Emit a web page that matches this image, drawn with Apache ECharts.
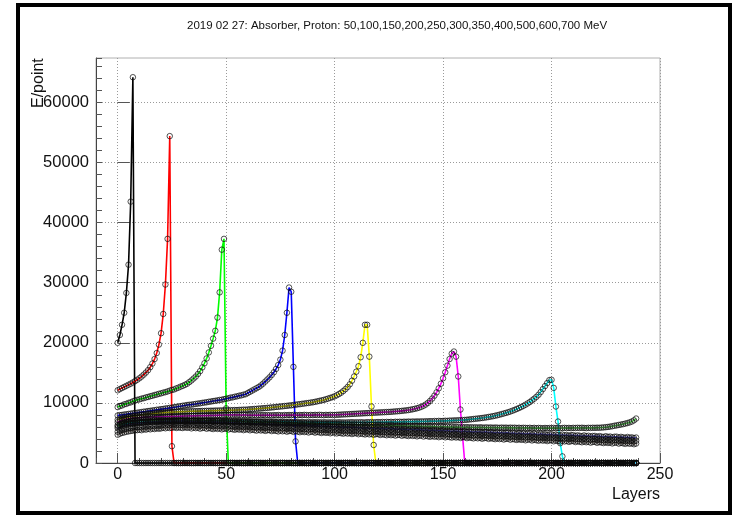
<!DOCTYPE html>
<html>
<head>
<meta charset="utf-8">
<title>Absorber, Proton</title>
<script src="https://cdn.jsdelivr.net/npm/echarts@6/dist/echarts.min.js"></script>
<style>
  html, body { margin: 0; padding: 0; background: #fff; }
  #chart { width: 734px; height: 517px; }
</style>
</head>
<body>
<div id="chart"></div>
<script>
// E/point per layer (layer = index in array), one array per proton energy
const e50 = [
  20000, 21300, 23000, 25000, 28300, 33000, 43500, 64200,
  0,0,0,0,0,0,0,0,0,0,0,0,0,0,0,0,0,0,0,0,
  0,0,0,0,0,0,0,0,0,0,0,0,0,0,0,0,0,0,0,0,
  0,0,0,0,0,0,0,0,0,0,0,0,0,0,0,0,0,0,0,0,
  0,0,0,0,0,0,0,0,0,0,0,0,0,0,0,0,0,0,0,0,
  0,0,0,0,0,0,0,0,0,0,0,0,0,0,0,0,0,0,0,0,
  0,0,0,0,0,0,0,0,0,0,0,0,0,0,0,0,0,0,0,0,
  0,0,0,0,0,0,0,0,0,0,0,0,0,0,0,0,0,0,0,0,
  0,0,0,0,0,0,0,0,0,0,0,0,0,0,0,0,0,0,0,0,
  0,0,0,0,0,0,0,0,0,0,0,0,0,0,0,0,0,0,0,0,
  0,0,0,0,0,0,0,0,0,0,0,0,0,0,0,0,0,0,0,0,
  0,0,0,0,0,0,0,0,0,0,0,0,0,0,0,0,0,0,0,0,
  0,0,0,0,0,0,0,0,0,0,0,0
]
const e100 = [
  12100, 12300, 12480, 12660, 12840, 13020, 13200, 13400, 13620, 13850,
  14100, 14380, 14700, 15050, 15450, 15950, 16550, 17300, 18300, 19700,
  21600, 24800, 29700, 37300, 54400, 2800,
  0,0,0,0,0,0,0,0,0,0,0,0,0,0,0,0,0,0,0,0,
  0,0,0,0,0,0,0,0,0,0,0,0,0,0,0,0,0,0,0,0,
  0,0,0,0,0,0,0,0,0,0,0,0,0,0,0,0,0,0,0,0,
  0,0,0,0,0,0,0,0,0,0,0,0,0,0,0,0,0,0,0,0,
  0,0,0,0,0,0,0,0,0,0,0,0,0,0,0,0,0,0,0,0,
  0,0,0,0,0,0,0,0,0,0,0,0,0,0,0,0,0,0,0,0,
  0,0,0,0,0,0,0,0,0,0,0,0,0,0,0,0,0,0,0,0,
  0,0,0,0,0,0,0,0,0,0,0,0,0,0,0,0,0,0,0,0,
  0,0,0,0,0,0,0,0,0,0,0,0,0,0,0,0,0,0,0,0,
  0,0,0,0,0,0,0,0,0,0,0,0,0,0,0,0,0,0,0,0,
  0,0,0,0,0,0,0,0,0,0,0,0,0,0
]
const e150 = [
  9300, 9470, 9580, 9760, 9840, 10010, 10090, 10260, 10390, 10510,
  10590, 10710, 10790, 10910, 10990, 11110, 11190, 11310, 11390, 11510,
  11590, 11710, 11790, 11910, 12040, 12160, 12240, 12410, 12540, 12710,
  12840, 13010, 13190, 13460, 13740, 14060, 14390, 14810, 15290, 15910,
  16600, 17400, 18400, 19500, 20700, 22000, 24200, 28400, 35500, 37300,
  9100,
  0,0,0,0,0,0,0,0,0,0,0,0,0,0,0,0,0,0,0,0,
  0,0,0,0,0,0,0,0,0,0,0,0,0,0,0,0,0,0,0,0,
  0,0,0,0,0,0,0,0,0,0,0,0,0,0,0,0,0,0,0,0,
  0,0,0,0,0,0,0,0,0,0,0,0,0,0,0,0,0,0,0,0,
  0,0,0,0,0,0,0,0,0,0,0,0,0,0,0,0,0,0,0,0,
  0,0,0,0,0,0,0,0,0,0,0,0,0,0,0,0,0,0,0,0,
  0,0,0,0,0,0,0,0,0,0,0,0,0,0,0,0,0,0,0,0,
  0,0,0,0,0,0,0,0,0,0,0,0,0,0,0,0,0,0,0,0,
  0,0,0,0,0,0,0,0,0,0,0,0,0,0,0,0,0,0,0,0,
  0,0,0,0,0,0,0,0,0
]
const e200 = [
  7900, 7980, 8000, 8070, 8100, 8170, 8210, 8280, 8310, 8360,
  8430, 8470, 8540, 8570, 8650, 8680, 8750, 8780, 8860, 8890,
  8960, 8990, 9070, 9100, 9170, 9210, 9290, 9330, 9410, 9450,
  9530, 9570, 9650, 9690, 9710, 9780, 9830, 9890, 9930, 10010,
  10060, 10110, 10190, 10230, 10310, 10350, 10420, 10490, 10530, 10620,
  10700, 10770, 10880, 10920, 11030, 11090, 11200, 11260, 11370, 11450,
  11650, 11850, 12050, 12250, 12450, 12650, 12900, 13200, 13550, 13900,
  14250, 14650, 15100, 15650, 16300, 17200, 18700, 21300, 25000, 29200,
  28500, 16000, 3600,
  0,0,0,0,0,0,0,0,0,0,0,0,0,0,0,0,0,0,0,0,
  0,0,0,0,0,0,0,0,0,0,0,0,0,0,0,0,0,0,0,0,
  0,0,0,0,0,0,0,0,0,0,0,0,0,0,0,0,0,0,0,0,
  0,0,0,0,0,0,0,0,0,0,0,0,0,0,0,0,0,0,0,0,
  0,0,0,0,0,0,0,0,0,0,0,0,0,0,0,0,0,0,0,0,
  0,0,0,0,0,0,0,0,0,0,0,0,0,0,0,0,0,0,0,0,
  0,0,0,0,0,0,0,0,0,0,0,0,0,0,0,0,0,0,0,0,
  0,0,0,0,0,0,0,0,0,0,0,0,0,0,0,0,0
]
const e250 = [
  7200, 7320, 7390, 7490, 7550, 7650, 7700, 7790, 7830, 7910,
  7940, 8010, 8040, 8100, 8120, 8180, 8200, 8260, 8270, 8320,
  8330, 8380, 8390, 8430, 8430, 8470, 8470, 8510, 8510, 8550,
  8550, 8580, 8580, 8610, 8600, 8630, 8620, 8650, 8640, 8670,
  8660, 8690, 8680, 8710, 8700, 8730, 8720, 8750, 8740, 8760,
  8780, 8760, 8800, 8790, 8820, 8810, 8840, 8850, 8880, 8870,
  8900, 8940, 8950, 9000, 9010, 9060, 9070, 9120, 9130, 9180,
  9200, 9250, 9270, 9330, 9350, 9410, 9430, 9490, 9510, 9570,
  9590, 9660, 9690, 9760, 9790, 9860, 9890, 9960, 9990, 10060,
  10100, 10180, 10260, 10340, 10420, 10500, 10610, 10720, 10840, 10960,
  11100, 11280, 11480, 11700, 11980, 12300, 12650, 13100, 13700, 14400,
  15200, 16100, 17600, 20000, 23000, 23000, 17700, 9400, 3000,
  0,0,0,0,0,0,0,0,0,0,0,0,0,0,0,0,0,0,0,0,
  0,0,0,0,0,0,0,0,0,0,0,0,0,0,0,0,0,0,0,0,
  0,0,0,0,0,0,0,0,0,0,0,0,0,0,0,0,0,0,0,0,
  0,0,0,0,0,0,0,0,0,0,0,0,0,0,0,0,0,0,0,0,
  0,0,0,0,0,0,0,0,0,0,0,0,0,0,0,0,0,0,0,0,
  0,0,0,0,0,0,0,0,0,0,0,0,0,0,0,0,0,0,0,0,
  0
]
const e300 = [
  6800, 6960, 7060, 7200, 7270, 7360, 7400, 7470, 7490, 7540,
  7550, 7590, 7590, 7630, 7630, 7660, 7650, 7680, 7670, 7700,
  7690, 7720, 7710, 7740, 7730, 7760, 7750, 7780, 7770, 7800,
  7800, 7830, 7810, 7840, 7830, 7860, 7840, 7880, 7860, 7890,
  7880, 7910, 7890, 7930, 7910, 7950, 7930, 7970, 7950, 7990,
  8010, 7970, 8030, 7990, 8040, 7980, 8020, 7960, 8010, 7990,
  7950, 7990, 7940, 7980, 7930, 7970, 7950, 7990, 7940, 7980,
  7960, 7920, 7970, 7940, 7990, 7950, 7930, 7980, 7950, 7990,
  7960, 8000, 7970, 7940, 7990, 7960, 8010, 7980, 7950, 8000,
  7970, 8010, 7980, 8020, 7990, 7960, 8010, 7980, 8020, 7990,
  8000, 8020, 8040, 8060, 8080, 8100, 8120, 8140, 8160, 8180,
  8200, 8220, 8240, 8260, 8280, 8300, 8320, 8340, 8360, 8380,
  8400, 8420, 8440, 8460, 8480, 8500, 8520, 8550, 8580, 8610,
  8640, 8680, 8720, 8760, 8810, 8870, 8940, 9020, 9110, 9220,
  9350, 9520, 9730, 10000, 10330, 10730, 11200, 11760, 12420, 13200,
  14100, 15100, 16200, 17300, 18200, 18550, 17700, 14400, 8900, 4400,
  0,0,0,0,0,0,0,0,0,0,0,0,0,0,0,0,0,0,0,0,
  0,0,0,0,0,0,0,0,0,0,0,0,0,0,0,0,0,0,0,0,
  0,0,0,0,0,0,0,0,0,0,0,0,0,0,0,0,0,0,0,0,
  0,0,0,0,0,0,0,0,0,0,0,0,0,0,0,0,0,0,0,0
]
const e350 = [
  6300, 6380, 6450, 6510, 6560, 6610, 6650, 6690, 6720, 6750,
  6780, 6800, 6820, 6840, 6860, 6870, 6880, 6890, 6900, 6900,
  6910, 6880, 6930, 6900, 6950, 6920, 6890, 6960, 6930, 6970,
  6950, 7000, 6960, 7010, 6980, 7030, 6990, 6960, 7020, 7000,
  7030, 6990, 7040, 7010, 6980, 7030, 7000, 7050, 7010, 6990,
  7030, 6990, 7010, 6970, 7000, 6950, 6990, 6940, 6980, 6960,
  6920, 6960, 6900, 6940, 6890, 6930, 6880, 6920, 6900, 6870,
  6910, 6860, 6890, 6840, 6880, 6830, 6870, 6850, 6810, 6860,
  6830, 6790, 6840, 6800, 6770, 6820, 6790, 6760, 6810, 6780,
  6760, 6800, 6750, 6790, 6740, 6780, 6760, 6730, 6770, 6750,
  6770, 6730, 6780, 6740, 6760, 6720, 6770, 6750, 6790, 6740,
  6780, 6750, 6790, 6760, 6740, 6800, 6770, 6810, 6760, 6790,
  6820, 6780, 6830, 6790, 6840, 6810, 6850, 6800, 6860, 6830,
  6870, 6830, 6880, 6850, 6900, 6860, 6910, 6880, 6920, 6890,
  6930, 6900, 6950, 6920, 6970, 6940, 6990, 6960, 7010, 6980,
  7000, 7030, 7010, 7060, 7050, 7090, 7080, 7120, 7110, 7150,
  7170, 7200, 7240, 7280, 7320, 7360, 7400, 7440, 7490, 7540,
  7600, 7660, 7720, 7790, 7870, 7950, 8040, 8140, 8240, 8340,
  8450, 8570, 8700, 8840, 8990, 9150, 9320, 9500, 9700, 9920,
  10150, 10420, 10700, 11000, 11350, 11800, 12300, 12800, 13300, 13800,
  13850, 12500, 9400, 6900, 3300, 1100,
  0,0,0,0,0,0,0,0,0,0,0,0,0,0,0,0,0,0,0,0,
  0,0,0,0,0,0,0,0,0,0,0,0,0,0
]
const e400 = [
  6100, 6330, 6570, 6690, 6820, 6860, 6970, 6980, 7060, 7050,
  7120, 7060, 7150, 7080, 7130, 7040, 7110, 7170, 7070, 7120,
  7090, 7160, 7050, 7130, 7100, 7030, 7140, 7080, 7170, 7090,
  7110, 7040, 7130, 7060, 7020, 7120, 7010, 7090, 7000, 7060,
  6960, 7050, 6990, 6930, 7020, 6940, 6990, 6900, 6980, 6920,
  6960, 6880, 6930, 6860, 6950, 6850, 6900, 6820, 6890, 6830,
  6870, 6790, 6840, 6770, 6830, 6740, 6810, 6760, 6720, 6790,
  6700, 6770, 6690, 6740, 6660, 6720, 6670, 6700, 6620, 6690,
  6690, 6610, 6660, 6580, 6640, 6560, 6620, 6590, 6530, 6600,
  6520, 6590, 6500, 6560, 6470, 6540, 6490, 6450, 6530, 6460,
  6500, 6430, 6480, 6400, 6460, 6380, 6440, 6410, 6360, 6430,
  6340, 6410, 6330, 6390, 6310, 6370, 6290, 6350, 6320, 6270,
  6330, 6260, 6310, 6240, 6290, 6210, 6270, 6230, 6190, 6250,
  6160, 6230, 6150, 6200, 6130, 6180, 6100, 6160, 6130, 6090,
  6140, 6080, 6120, 6050, 6100, 6030, 6090, 6040, 6000, 6070,
  6040, 5990, 6030, 5960, 6010, 5940, 5990, 5970, 5930, 5990,
  5920, 5980, 5910, 5960, 5900, 5950, 5890, 5940, 5910, 5880,
  5930, 5870, 5920, 5860, 5910, 5880, 5850, 5900, 5860, 5890,
  5840, 5890, 5850, 5880, 5830, 5870, 5820, 5860, 5840, 5810,
  5860, 5800, 5850, 5790, 5840, 5810, 5780, 5830, 5800, 5820,
  5790, 5840, 5800, 5830, 5780, 5820, 5850, 5810, 5840, 5800,
  5850, 5820, 5860, 5830, 5870, 5840, 5810, 5860, 5830, 5870,
  5850, 5880, 5860, 5900, 5920, 5960, 6000, 6060, 6120, 6200,
  6260, 6330, 6400, 6470, 6560, 6650, 6760, 6900, 7100, 7400
]
const e500 = [
  5800, 5950, 6120, 6200, 6330, 6380, 6450, 6520, 6540, 6600,
  6620, 6700, 6640, 6780, 6720, 6850, 6760, 6900, 6820, 6880,
  6950, 6830, 7010, 6880, 6990, 6860, 7040, 6910, 6970, 6930,
  7060, 6850, 7010, 6790, 6990, 6820, 6970, 6740, 6930, 6860,
  6930, 6720, 6880, 6690, 6850, 6740, 6900, 6650, 6810, 6700,
  6800, 6580, 6760, 6620, 6730, 6550, 6690, 6620, 6480, 6660,
  6420, 6640, 6510, 6590, 6440, 6550, 6380, 6570, 6460, 6520,
  6330, 6510, 6390, 6460, 6280, 6440, 6350, 6400, 6230, 6370,
  6380, 6200, 6340, 6260, 6150, 6300, 6190, 6270, 6110, 6240,
  6270, 6080, 6220, 6120, 6190, 6010, 6150, 6070, 6130, 5980,
  6110, 5940, 6070, 5980, 5890, 6040, 5920, 6000, 5850, 5960,
  5970, 5810, 5930, 5760, 5880, 5850, 5720, 5890, 5790, 5700,
  5840, 5680, 5800, 5720, 5640, 5790, 5610, 5740, 5680, 5590,
  5710, 5560, 5670, 5600, 5500, 5650, 5540, 5610, 5470, 5560,
  5580, 5420, 5530, 5460, 5370, 5510, 5400, 5470, 5330, 5420,
  5440, 5290, 5400, 5320, 5240, 5380, 5260, 5330, 5200, 5290,
  5310, 5160, 5270, 5200, 5100, 5250, 5130, 5190, 5060, 5160,
  5180, 5020, 5140, 5060, 4970, 5110, 4990, 5060, 4930, 5020,
  5050, 4890, 5000, 4930, 4840, 4980, 4860, 4930, 4800, 4890,
  4910, 4760, 4870, 4800, 4710, 4850, 4730, 4790, 4670, 4760,
  4780, 4630, 4740, 4670, 4580, 4720, 4600, 4660, 4540, 4630,
  4650, 4500, 4610, 4530, 4450, 4590, 4470, 4530, 4410, 4500,
  4510, 4370, 4480, 4400, 4320, 4460, 4340, 4400, 4280, 4370,
  4380, 4240, 4350, 4270, 4190, 4330, 4210, 4270, 4150, 4240
]
const e600 = [
  5200, 5380, 5500, 5610, 5700, 5790, 5830, 5900, 5960, 5980,
  6050, 5960, 6130, 6050, 6190, 6100, 6240, 6160, 6280, 6210,
  6250, 6380, 6270, 6420, 6300, 6360, 6450, 6320, 6410, 6370,
  6310, 6470, 6350, 6420, 6260, 6400, 6300, 6370, 6220, 6340,
  6360, 6190, 6320, 6230, 6140, 6290, 6170, 6250, 6100, 6210,
  6240, 6060, 6200, 6110, 6020, 6160, 6040, 6120, 5960, 6070,
  6090, 5930, 6050, 5970, 5880, 6020, 5900, 5980, 5830, 5940,
  5950, 5790, 5910, 5830, 5750, 5890, 5760, 5840, 5690, 5800,
  5820, 5660, 5780, 5700, 5610, 5750, 5630, 5710, 5560, 5670,
  5690, 5530, 5650, 5570, 5480, 5620, 5500, 5580, 5430, 5540,
  5560, 5400, 5520, 5440, 5350, 5490, 5370, 5450, 5300, 5410,
  5420, 5270, 5380, 5310, 5220, 5360, 5240, 5320, 5170, 5280,
  5290, 5140, 5250, 5180, 5090, 5230, 5110, 5190, 5040, 5150,
  5160, 5010, 5120, 5050, 4960, 5100, 4980, 5060, 4910, 5020,
  5030, 4870, 4990, 4910, 4820, 4970, 4850, 4930, 4780, 4890,
  4900, 4740, 4860, 4780, 4690, 4840, 4710, 4790, 4640, 4760,
  4770, 4610, 4730, 4650, 4560, 4700, 4580, 4660, 4510, 4620,
  4640, 4480, 4600, 4520, 4430, 4570, 4450, 4530, 4380, 4490,
  4500, 4350, 4460, 4390, 4300, 4440, 4320, 4400, 4250, 4360,
  4370, 4220, 4330, 4260, 4170, 4310, 4190, 4270, 4120, 4230,
  4240, 4090, 4200, 4130, 4040, 4180, 4060, 4140, 3990, 4100,
  4110, 3950, 4070, 4000, 3910, 4050, 3930, 4010, 3860, 3970,
  3980, 3820, 3940, 3870, 3780, 3920, 3800, 3880, 3730, 3840,
  3850, 3690, 3810, 3740, 3650, 3790, 3670, 3750, 3600, 3710
]
const e700 = [
  4700, 4880, 5010, 5090, 5200, 5260, 5330, 5380, 5450, 5470,
  5540, 5460, 5620, 5550, 5690, 5600, 5730, 5650, 5780, 5700,
  5760, 5870, 5780, 5900, 5820, 5860, 5950, 5830, 5920, 5870,
  5820, 5970, 5850, 5930, 5760, 5900, 5800, 5880, 5720, 5830,
  5860, 5700, 5820, 5740, 5650, 5790, 5670, 5750, 5600, 5710,
  5730, 5570, 5690, 5610, 5530, 5660, 5550, 5620, 5470, 5580,
  5600, 5440, 5560, 5480, 5390, 5530, 5410, 5490, 5340, 5450,
  5470, 5310, 5430, 5350, 5260, 5400, 5280, 5360, 5210, 5320,
  5340, 5180, 5300, 5220, 5130, 5270, 5150, 5230, 5080, 5190,
  5210, 5050, 5170, 5090, 5000, 5140, 5020, 5100, 4950, 5060,
  5080, 4920, 5040, 4960, 4880, 5010, 4890, 4970, 4820, 4930,
  4950, 4790, 4910, 4830, 4750, 4880, 4760, 4840, 4690, 4800,
  4820, 4660, 4780, 4700, 4620, 4750, 4630, 4710, 4560, 4670,
  4690, 4530, 4650, 4570, 4490, 4620, 4500, 4580, 4430, 4540,
  4560, 4400, 4520, 4440, 4360, 4490, 4370, 4450, 4300, 4410,
  4430, 4270, 4390, 4310, 4230, 4360, 4240, 4320, 4170, 4280,
  4300, 4140, 4260, 4180, 4100, 4230, 4110, 4190, 4040, 4150,
  4170, 4010, 4130, 4050, 3970, 4100, 3980, 4060, 3910, 4020,
  4040, 3880, 4000, 3920, 3840, 3970, 3850, 3930, 3780, 3890,
  3910, 3750, 3870, 3790, 3710, 3840, 3720, 3800, 3650, 3760,
  3780, 3620, 3740, 3660, 3580, 3710, 3590, 3670, 3520, 3630,
  3650, 3490, 3610, 3530, 3450, 3580, 3460, 3540, 3390, 3500,
  3520, 3360, 3480, 3400, 3320, 3450, 3330, 3410, 3260, 3370,
  3390, 3230, 3350, 3270, 3190, 3320, 3200, 3280, 3130, 3240
]

const energies = ['50', '100', '150', '200', '250', '300', '350', '400', '500', '600', '700']
const allSeries = [e50, e100, e150, e200, e250, e300, e350, e400, e500, e600, e700]
// ROOT colour indices 1..11
const lineColors = ['#000000', '#ff0000', '#00ff00', '#0000ff', '#ffff00', '#ff00ff',
  '#00ffff', '#59d454', '#5954d9', '#ffffff', '#c0b6ac']

const xMajorTicks = [0, 50, 100, 150, 200, 250]
const yMajorTicks = [0, 10000, 20000, 30000, 40000, 50000, 60000]

const chart = echarts.init(document.getElementById('chart'), null, { renderer: 'canvas' })
const font = 'Liberation Sans, Arial, Helvetica, sans-serif'
const gridColor = '#9a9a9a'
const none = 'rgba(0,0,0,0)'

const seriesList = allSeries.map((vals, k) => {
  return {
    name: energies[k] + ' MeV',
    type: 'line',
    data: vals.map((v, layer) => [layer, v]),
    symbol: 'circle',
    symbolSize: 5.5,
    showAllSymbol: true,
    silent: true,
    animation: false,
    lineStyle: { color: lineColors[k], width: 1.6 },
    itemStyle: { color: none, borderColor: 'rgba(10,10,10,0.7)', borderWidth: 1 },
    emphasis: { disabled: true }
  }
})

const option = {
  backgroundColor: '#fff',
  animation: false,
  title: {
    text: '2019 02 27: Absorber, Proton: 50,100,150,200,250,300,350,400,500,600,700 MeV',
    left: 182,
    top: 15,
    textStyle: { fontFamily: font, fontSize: 11.5, fontWeight: 'normal', color: '#111' }
  },
  graphic: [
    {
      type: 'rect',
      shape: { x: 18, y: 5, width: 712, height: 508 },
      style: { fill: null, stroke: '#000', lineWidth: 4 },
      silent: true,
      z: 100
    }
  ],
  grid: {
    left: 96,
    top: 58,
    right: 74,
    bottom: 54,
    containLabel: false,
    outerBoundsMode: 'none',
    show: true,
    borderColor: '#b0b0b0',
    borderWidth: 1,
    backgroundColor: '#fff'
  },
  xAxis: [
    {
      type: 'value',
      min: -10,
      max: 250,
      interval: 10,
      name: 'Layers',
      nameLocation: 'end',
      nameGap: 0,
      nameMoveOverlap: false,
      nameTextStyle: {
        fontFamily: font, fontSize: 16, color: '#111',
        align: 'right', verticalAlign: 'top', padding: [24, 0, 0, 0]
      },
      axisLine: { show: true, onZero: false, lineStyle: { color: '#444', width: 1 } },
      axisTick: { show: true, inside: true, length: 5, lineStyle: { color: '#555' } },
      axisLabel: {
        show: true, margin: 4, fontFamily: font, fontSize: 16, color: '#111',
        formatter: v => (v % 50 === 0 ? String(v) : '')
      },
      splitLine: {
        show: true,
        lineStyle: { color: [none, gridColor, none, none, none], type: [1, 2], width: 1 }
      }
    },
    {
      type: 'value',
      min: -10,
      max: 250,
      position: 'bottom',
      axisLine: { show: false },
      axisLabel: { show: false },
      splitLine: { show: false },
      axisTick: { show: true, inside: true, length: 10, customValues: xMajorTicks, lineStyle: { color: '#555' } }
    }
  ],
  yAxis: [
    {
      type: 'value',
      min: 0,
      max: 67400,
      interval: 2000,
      name: 'E/point',
      nameLocation: 'end',
      nameGap: -50,
      nameRotate: 90,
      nameMoveOverlap: false,
      nameTextStyle: {
        fontFamily: font, fontSize: 16, color: '#111',
        align: 'left', verticalAlign: 'bottom', padding: [0, 0, 49, 0]
      },
      axisLine: { show: true, onZero: false, lineStyle: { color: '#444', width: 1 } },
      axisTick: { show: true, inside: true, length: 6, lineStyle: { color: '#555' } },
      axisLabel: {
        show: true, margin: 7, fontFamily: font, fontSize: 16.5, color: '#111',
        formatter: v => (v % 10000 === 0 ? String(v) : '')
      },
      splitLine: {
        show: true,
        lineStyle: { color: [gridColor, none, none, none, none], type: [1, 2], width: 1 }
      }
    },
    {
      type: 'value',
      min: 0,
      max: 67400,
      position: 'left',
      axisLine: { show: false },
      axisLabel: { show: false },
      splitLine: { show: false },
      axisTick: { show: true, inside: true, length: 12, customValues: yMajorTicks, lineStyle: { color: '#555' } }
    }
  ],
  series: seriesList
}

chart.setOption(option)
</script>
</body>
</html>
